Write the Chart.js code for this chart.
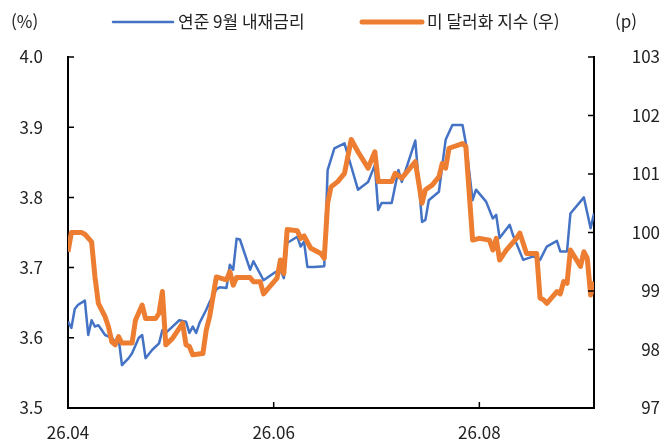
<!DOCTYPE html>
<html lang="ko">
<head>
<meta charset="utf-8">
<title>연준 9월 내재금리 vs 미 달러화 지수</title>
<script src="https://cdn.jsdelivr.net/npm/chart.js"></script>
<style>
  html, body { margin: 0; padding: 0; background: #fff; }
  #wrap { width: 660px; height: 448px; }
</style>
</head>
<body>
<div id="wrap"><canvas id="rateChart" width="660" height="448"></canvas></div>
<script>
// x = days since 2026-04-01
const xTickDays = [0, 61, 122];
const xTickLabels = ['26.04', '26.06', '26.08'];

// 연준 9월 내재금리 (%), left axis
const rateDays = [0, 1, 2, 3, 5, 6, 7, 8, 9, 10, 11, 13, 14, 15, 16, 18, 19, 21, 22, 23, 25, 27, 28, 29,
  31, 33, 35, 36, 37, 38, 39, 41, 42, 44, 45, 47, 48, 49, 50, 51, 54, 55, 56, 58, 61, 63, 64, 65, 68, 69,
  70, 71, 73, 76, 77, 79, 82, 84, 86, 89, 91, 92, 93, 96, 98, 99, 103, 105, 106, 107, 110, 112, 114, 117,
  118, 120, 121, 124, 126, 127, 128, 131, 132, 135, 138, 140, 142, 145, 146, 148, 149, 153, 155, 156];
const rateValues = [3.623, 3.614, 3.641, 3.647, 3.653, 3.604, 3.625, 3.616, 3.618, 3.611, 3.604, 3.600, 3.594,
  3.600, 3.561, 3.571, 3.578, 3.600, 3.604, 3.571, 3.583, 3.592, 3.611, 3.607, 3.616, 3.625, 3.623, 3.607,
  3.616, 3.607, 3.621, 3.640, 3.651, 3.669, 3.672, 3.671, 3.704, 3.697, 3.741, 3.740, 3.697, 3.709, 3.700,
  3.682, 3.692, 3.697, 3.685, 3.735, 3.744, 3.730, 3.737, 3.701, 3.701, 3.702, 3.839, 3.870, 3.877, 3.844,
  3.811, 3.822, 3.846, 3.782, 3.792, 3.792, 3.839, 3.822, 3.881, 3.765, 3.768, 3.796, 3.808, 3.882, 3.903,
  3.903, 3.877, 3.796, 3.811, 3.794, 3.770, 3.775, 3.742, 3.761, 3.746, 3.711, 3.716, 3.711, 3.730, 3.738,
  3.723, 3.723, 3.777, 3.800, 3.756, 3.777];

// 미 달러화 지수 (p), right axis
const dxyDays = [0, 1, 4, 5, 7, 8, 9, 11, 12, 13, 14, 15, 16, 19, 20, 22, 23, 26, 27, 28, 29, 31, 34, 35,
  36, 37, 40, 41, 42, 44, 47, 48, 49, 50, 54, 55, 57, 58, 59, 62, 63, 64, 65, 68, 69, 70, 72, 75, 76, 77,
  78, 80, 82, 84, 86, 89, 91, 92, 96, 97, 99, 103, 105, 106, 108, 110, 111, 112, 113, 117, 118, 120, 122,
  125, 126, 127, 128, 130, 133, 134, 136, 139, 140, 141, 142, 145, 146, 147, 148, 149, 152, 153, 154, 155, 156];
const dxyValues = [99.67, 100.00, 100.00, 99.97, 99.84, 99.24, 98.79, 98.56, 98.39, 98.13, 98.08, 98.22, 98.11,
  98.11, 98.50, 98.76, 98.53, 98.53, 98.62, 98.99, 98.08, 98.19, 98.45, 98.08, 98.05, 97.91, 97.93, 98.33,
  98.56, 99.24, 99.19, 99.33, 99.10, 99.23, 99.23, 99.16, 99.16, 98.95, 99.02, 99.22, 99.53, 99.30, 100.05,
  100.03, 99.90, 99.94, 99.73, 99.64, 99.56, 100.50, 100.78, 100.87, 101.01, 101.59, 101.38, 101.10, 101.38,
  100.87, 100.87, 101.01, 100.93, 101.21, 100.50, 100.73, 100.81, 100.95, 101.18, 101.10, 101.44, 101.52,
  101.47, 99.87, 99.90, 99.87, 99.70, 99.90, 99.53, 99.70, 99.90, 99.99, 99.64, 99.64, 98.88, 98.85, 98.79,
  98.99, 98.95, 99.16, 99.13, 99.70, 99.42, 99.67, 99.56, 98.93, 99.16];

const BLUE = '#4472C4';
const ORANGE = '#ED7D31';
const FONT = '"Noto Sans CJK KR", "Noto Sans", sans-serif';
const TEXT = '#222';

(function () {
  const toPoints = (days, vals) => days.map((d, i) => ({ x: d, y: vals[i] }));

  // legend, unit labels and inward tick marks (Excel style)
  const extras = {
    id: 'extras',
    afterDraw(chart) {
      const { ctx, chartArea, scales } = chart;
      const tick = 6;
      ctx.save();
      ctx.strokeStyle = '#000';
      ctx.lineWidth = 1.5;
      ctx.beginPath();
      scales.y.ticks.forEach(t => {
        const py = scales.y.getPixelForValue(t.value);
        ctx.moveTo(chartArea.left, py);
        ctx.lineTo(chartArea.left + tick, py);
      });
      scales.y2.ticks.forEach(t => {
        const py = scales.y2.getPixelForValue(t.value);
        ctx.moveTo(chartArea.right, py);
        ctx.lineTo(chartArea.right - tick, py);
      });
      scales.x.ticks.forEach(t => {
        if (t.value <= scales.x.min) return;
        const px = scales.x.getPixelForValue(t.value);
        ctx.moveTo(px, chartArea.bottom);
        ctx.lineTo(px, chartArea.bottom - tick);
      });
      ctx.stroke();

      ctx.font = '17px ' + FONT;
      ctx.fillStyle = TEXT;
      ctx.textBaseline = 'middle';
      ctx.textAlign = 'left';
      ctx.fillText('(%)', 11, 22);
      ctx.textAlign = 'right';
      ctx.fillText('(p)', 637, 22);

      // legend
      ctx.textAlign = 'left';
      chart.data.datasets.forEach((ds, i) => {
        const lx = i === 0 ? 113 : 362;
        ctx.strokeStyle = ds.borderColor;
        ctx.lineWidth = ds.borderWidth;
        ctx.lineCap = 'round';
        ctx.beginPath();
        ctx.moveTo(lx, 22);
        ctx.lineTo(lx + 60, 22);
        ctx.stroke();
        ctx.fillText(ds.label, lx + 65, 22);
      });
      ctx.restore();
    }
  };

  const ctx = document.getElementById('rateChart').getContext('2d');
  new Chart(ctx, {
    type: 'line',
    data: {
      datasets: [{
        label: '연준 9월 내재금리',
        data: toPoints(rateDays, rateValues),
        yAxisID: 'y',
        borderColor: BLUE,
        borderWidth: 2.5,
        pointRadius: 0,
        tension: 0,
        borderJoinStyle: 'round',
        order: 1
      }, {
        label: '미 달러화 지수 (우)',
        data: toPoints(dxyDays, dxyValues),
        yAxisID: 'y2',
        borderColor: ORANGE,
        borderWidth: 5,
        pointRadius: 0,
        tension: 0,
        borderJoinStyle: 'round',
        order: 0
      }]
    },
    options: {
      responsive: false,
      animation: false,
      layout: { padding: { top: 57, left: 0, right: 0, bottom: 0 } },
      plugins: { legend: { display: false }, tooltip: { enabled: false } },
      scales: {
        x: {
          type: 'linear',
          min: 0,
          max: 156,
          afterBuildTicks: (scale) => { scale.ticks = xTickDays.map(v => ({ value: v })); },
          afterFit: (scale) => { scale.height = 40; },
          grid: { display: false, drawTicks: false },
          border: { display: true, color: '#000', width: 2 },
          ticks: {
            padding: 14,
            maxRotation: 0,
            autoSkip: false,
            color: TEXT,
            font: { family: FONT, size: 17 },
            callback: (v) => xTickLabels[xTickDays.indexOf(v)] ?? ''
          }
        },
        y: {
          position: 'left',
          min: 3.5,
          max: 4.0,
          afterFit: (scale) => { scale.width = 68; },
          grid: { display: false, drawTicks: false },
          border: { display: true, color: '#000', width: 2 },
          ticks: {
            stepSize: 0.1,
            padding: 25,
            color: TEXT,
            font: { family: FONT, size: 17 },
            callback: (v) => Number(v).toFixed(1)
          }
        },
        y2: {
          position: 'right',
          min: 97,
          max: 103,
          afterFit: (scale) => { scale.width = 66; },
          grid: { display: false, drawTicks: false },
          border: { display: true, color: '#000', width: 2 },
          ticks: {
            stepSize: 1,
            padding: 12,
            crossAlign: 'far',
            color: TEXT,
            font: { family: FONT, size: 17 }
          }
        }
      }
    },
    plugins: [extras]
  });
})();
</script>
</body>
</html>
